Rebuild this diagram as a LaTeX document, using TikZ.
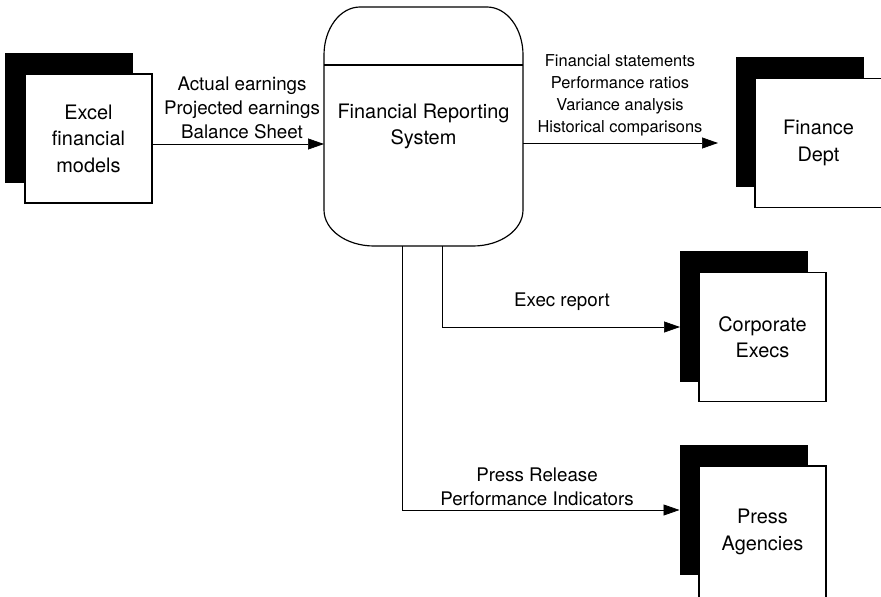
\documentclass[tikz,border=0pt]{standalone}
\usepackage{fontspec}
\setmainfont{TeX Gyre Heros}
\usetikzlibrary{arrows.meta}
\begin{document}
\begin{tikzpicture}[x=0.03cm, y=0.03cm,
    shadowbox/.style={fill=black, minimum width=3.84cm, minimum height=3.9cm, inner sep=0pt, outer sep=0pt},
    entity/.style={draw, line width=0.9pt, fill=white, align=center, minimum width=3.81cm, minimum height=3.87cm,
      inner sep=0pt, outer sep=0pt, font=\fontsize{17}{22.6}\selectfont},
    flow/.style={line width=0.6pt, -{Triangle[length=0.48cm, width=0.33cm]}},
    flowlabel/.style={align=center, inner sep=0pt, font=\fontsize{16}{20.6}\selectfont}]
  \useasboundingbox (0, 0) rectangle (881, -596);

  % external entities
  \node[shadowbox] (excelshadow) at (69, -118) {};
  \node[entity] (excel) at (88.5, -138.5) {Excel\\financial\\models};

  \node[shadowbox] (financeshadow) at (799.5, -122) {};
  \node[entity] (finance) at (818.5, -143) {Finance\\Dept};

  \node[shadowbox] (corpshadow) at (744, -316.5) {};
  \node[entity] (corp) at (762.5, -337) {Corporate\\Execs};

  \node[shadowbox] (pressshadow) at (743.5, -510) {};
  \node[entity, minimum height=3.96cm] (press) at (762.5, -532) {Press\\Agencies};

  % process
  \node[minimum width=5.97cm, minimum height=7.17cm, outer sep=0pt, align=center,
    font=\fontsize{17}{22.6}\selectfont] (system) at (423.5, -126.5) {Financial Reporting\\System};
  \draw[line width=1pt] (324, -55) arc[start angle=180, end angle=90, x radius=1.08cm, y radius=1.44cm]
    -- (487, -7) arc[start angle=90, end angle=0, x radius=1.08cm, y radius=1.44cm]
    -- (523, -210) arc[start angle=0, end angle=-90, x radius=1.5cm, y radius=1.08cm]
    -- (374, -246) arc[start angle=270, end angle=180, x radius=1.5cm, y radius=1.08cm] -- cycle;
  \draw[line width=0.9pt] (324, -65) -- (523, -65);

  % data flows
  \coordinate (financein) at (718, -143);
  \draw[flow] (excel.east |- 0, -144) -- (system.west |- 0, -144);
  \draw[flow] (system.east |- financein) -- (financein);
  \draw[flow] (system.south -| 442, 0) |- (corpshadow.west |- 0, -327);
  \draw[flow] (system.south -| 402, 0) |- (pressshadow.west |- 0, -510);

  \node[flowlabel] (inlabel) at (242, -108) {Actual earnings\\Projected earnings\\Balance Sheet};
  \node[flowlabel, font=\fontsize{14}{18.7}\selectfont] (outlabel) at (620, -95.5)
    {Financial statements\\Performance ratios\\Variance analysis\\Historical comparisons};
  \node[flowlabel] (execlabel) at (562, -301.5) {Exec report};
  \node[flowlabel] (presslabel) at (537, -486.5) {Press Release\\Performance Indicators};
\end{tikzpicture}
\end{document}
